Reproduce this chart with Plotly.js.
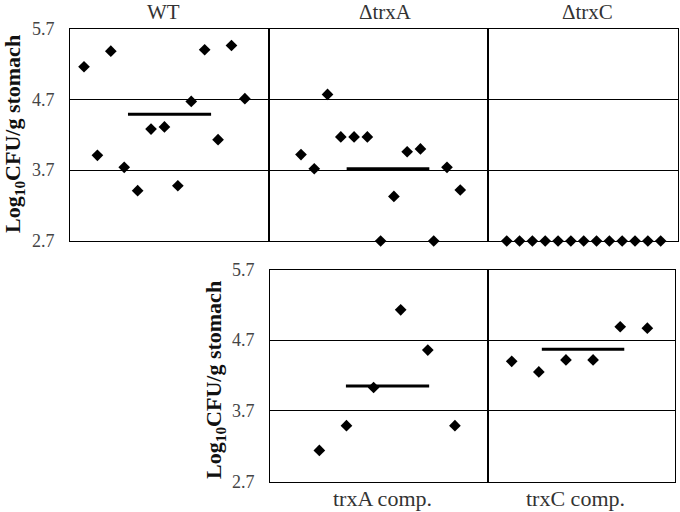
<!DOCTYPE html>
<html>
<head>
<meta charset="utf-8">
<script src="https://cdn.plot.ly/plotly-3.0.1.min.js"></script>
<style>html,body{margin:0;padding:0;background:#fff;}#chart{width:680px;height:512px;}</style>
</head>
<body>
<div id="chart"></div>
<script>
// ---- data ----
const panelNames = ["WT", "\u0394trxA", "\u0394trxC", "trxA comp.", "trxC comp."];
const wtValues = [5.16, 3.91, 5.38, 3.74, 3.41, 4.28, 4.31, 3.48, 4.67, 5.40, 4.13, 5.46, 4.71];
const trxAValues = [3.92, 3.72, 4.77, 4.17, 4.17, 4.17, 2.70, 3.33, 3.96, 4.00, 2.70, 3.74, 3.42];
const trxCValues = [2.70, 2.70, 2.70, 2.70, 2.70, 2.70, 2.70, 2.70, 2.70, 2.70, 2.70, 2.70, 2.70];
const trxACompValues = [3.14, 3.49, 4.03, 5.13, 4.56, 3.49];
const trxCCompValues = [4.40, 4.25, 4.42, 4.42, 4.89, 4.87];
const meanValues = [4.49, 3.72, null, 4.05, 4.57];
const yTickVals = [2.7, 3.7, 4.7, 5.7];
const yTickText = ["2.7", "3.7", "4.7", "5.7"];
const yTitle = "<b>Log<sub>10</sub>CFU/g stomach</b>";

// ---- layout configuration ----
const W = 680, H = 512;
const series = [wtValues, trxAValues, trxCValues, trxACompValues, trxCCompValues];
const xDomPx = [[70, 269], [269, 488], [488, 678], [270, 488], [488, 675]];
const xRanges = [[-0.045, 14.8], [-1.41, 15.09], [-0.46, 14.35], [-0.82, 7.22], [0.126, 7.02]];
const meanSpan = [[4.28, 10.48], [4.44, 10.67], null, [1.98, 5.05], [2.11, 5.15]];
const rowYPx = [[28.5, 241], [269.5, 481.5]];
const rowOf = [0, 0, 0, 1, 1];

const traces = [];
const layout = {
  width: W, height: H,
  margin: {l: 0, r: 0, t: 0, b: 0},
  paper_bgcolor: "#fff", plot_bgcolor: "#fff",
  showlegend: false,
  font: {family: "Liberation Serif, Times New Roman, serif", color: "#333"},
  annotations: [],
  shapes: []
};

series.forEach((vals, i) => {
  const n = i + 1;
  const xa = n === 1 ? "x" : "x" + n;
  const ya = n === 1 ? "y" : "y" + n;
  const row = rowOf[i];
  const yp = rowYPx[row];
  const isLeft = (i === 0 || i === 3);
  layout["xaxis" + (n === 1 ? "" : n)] = {
    domain: [xDomPx[i][0] / W, xDomPx[i][1] / W],
    range: xRanges[i], anchor: ya,
    showgrid: false, zeroline: false, showticklabels: false, ticks: "",
    showline: true, mirror: true, linecolor: "#000", linewidth: 1,
    fixedrange: true
  };
  layout["yaxis" + (n === 1 ? "" : n)] = {
    domain: [1 - yp[1] / H, 1 - yp[0] / H],
    range: [2.7, 5.7], anchor: xa,
    tickvals: yTickVals, ticktext: yTickText,
    showticklabels: isLeft, ticks: "",
    ticklabelstandoff: 11,
    tickfont: {size: 18, color: "#444", family: "Liberation Serif, serif"},
    showgrid: true, gridcolor: "#000", gridwidth: 1,
    zeroline: false,
    showline: true, mirror: true, linecolor: "#000", linewidth: 1,
    fixedrange: true
  };
  traces.push({
    type: "scatter", mode: "markers",
    x: vals.map((v, k) => k + 1), y: vals,
    xaxis: xa, yaxis: ya,
    cliponaxis: false,
    marker: {symbol: "diamond", size: 9, color: "#000"},
    hoverinfo: "y"
  });
  if (meanValues[i] !== null && meanSpan[i]) {
    traces.push({
      type: "scatter", mode: "lines",
      x: meanSpan[i], y: [meanValues[i], meanValues[i]],
      xaxis: xa, yaxis: ya,
      line: {color: "#000", width: 3},
      hoverinfo: "skip"
    });
  }
});

// panel names
const nameFont = {size: 21, color: "#333", family: "Liberation Serif, serif"};
[0, 1, 2].forEach(i => {
  const cx = (i === 0 ? 163 : i === 1 ? 385 : 587);
  layout.annotations.push({
    text: panelNames[i], xref: "paper", yref: "paper",
    x: cx / W, y: 1 - 12 / H, xanchor: "center", yanchor: "middle",
    showarrow: false, font: nameFont
  });
});
[3, 4].forEach(i => {
  const cx = (i === 3 ? 382 : 575);
  layout.annotations.push({
    text: panelNames[i], xref: "paper", yref: "paper",
    x: cx / W, y: 1 - 498 / H, xanchor: "center", yanchor: "middle",
    showarrow: false, font: {size: 22, color: "#333", family: "Liberation Serif, serif"}
  });
});
// y-axis titles
[[14, 134], [215, 380]].forEach(p => {
  layout.annotations.push({
    text: yTitle, xref: "paper", yref: "paper",
    x: p[0] / W, y: 1 - p[1] / H, xanchor: "center", yanchor: "middle",
    textangle: -90, showarrow: false, borderpad: 0,
    font: {size: 22, color: "#111", family: "Liberation Serif, serif"}
  });
});

Plotly.newPlot("chart", traces, layout, {staticPlot: true, displayModeBar: false});
</script>
</body>
</html>
